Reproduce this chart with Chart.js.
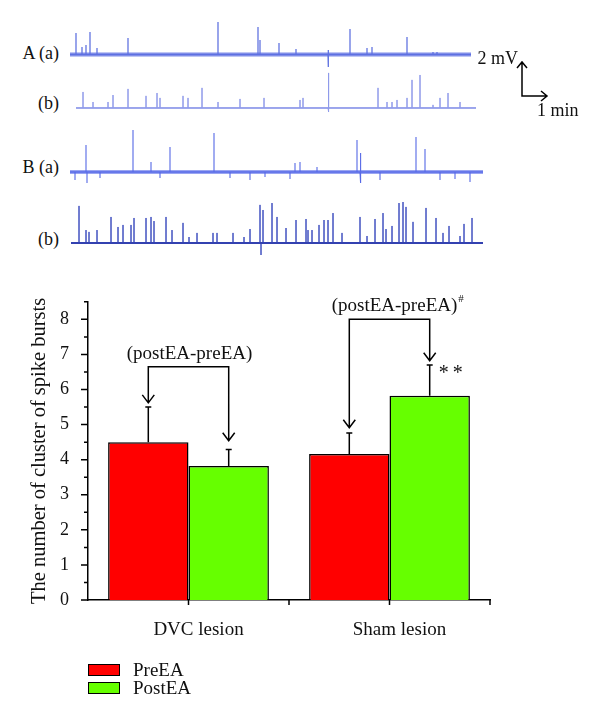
<!DOCTYPE html>
<html>
<head>
<meta charset="utf-8">
<script src="https://cdn.jsdelivr.net/npm/chart.js@4.4.1/dist/chart.umd.min.js"></script>
<style>
body { margin: 0; background: #fff; width: 600px; height: 717px; position: relative; overflow: hidden; font-family: 'Liberation Serif', 'Times New Roman', serif; color: #111; }
canvas { position: absolute; }
.lbl { position: absolute; font-size: 18px; line-height: 20px; white-space: nowrap; text-align: right; width: 60px; }
#legend { position: absolute; left: 88px; top: 661px; font-size: 19px; }
.item { display: flex; align-items: center; height: 18px; }
.box { width: 30px; height: 10px; border: 1px solid #000; margin-right: 13px; }
</style>
</head>
<body>
<div class="lbl" style="left:-1px;top:43px">A (a)</div>
<div class="lbl" style="left:-1px;top:93px">(b)</div>
<div class="lbl" style="left:-1px;top:157px">B (a)</div>
<div class="lbl" style="left:-1px;top:229px">(b)</div>

<canvas id="traceAa" width="520" height="120" style="left:60px;top:4px"></canvas>
<canvas id="traceAb" width="520" height="60" style="left:60px;top:68px"></canvas>
<canvas id="traceBa" width="520" height="70" style="left:60px;top:122px"></canvas>
<canvas id="traceBb" width="520" height="70" style="left:60px;top:193px"></canvas>
<canvas id="bars" width="600" height="437" style="left:0;top:280px"></canvas>
<div id="legend"></div>

<script>
// recordings: [time (min), amplitude (mV)] of the visible spikes
const spanAa = [0.4, 16.44];
const spikesAa = [[0.64, 1.26], [0.88, 0.44], [1.04, 0.56], [1.2, 1.32], [1.48, 0.38], [2.72, 0.97],
    [6.32, 1.91], [7.92, 1.62], [8.0, 0.85], [8.76, 0.68], [9.44, 0.32], [10.72, 0.26], [10.74, -0.74],
    [11.6, 1.5], [12.28, 0.38], [12.48, 0.44], [13.88, 1.03], [14.92, 0.15], [15.08, 0.15]];

const spanAb = [0.64, 16.64];
const spikesAb = [[0.92, 0.94], [1.32, 0.35], [1.92, 0.35], [2.12, 0.76], [2.72, 1.12], [3.44, 0.71],
    [3.88, 0.88], [4.0, 0.59], [4.92, 0.71], [5.12, 0.59], [5.68, 1.18], [6.32, 0.35], [7.2, 0.53],
    [8.16, 0.59], [9.6, 0.47], [9.72, 0.59], [10.72, 2.06], [10.76, -0.24], [12.72, 1.18], [13.08, 0.35],
    [13.28, 0.35], [13.48, 0.47], [13.88, 0.59], [14.08, 1.65], [14.4, 1.94], [14.92, 0.18], [15.2, 0.59],
    [15.52, 0.88], [16.0, 0.35]];

const spanBa = [0.4, 16.92];
const spikesBa = [[0.6, -0.47], [1.04, 1.59], [1.08, -0.65], [1.6, -0.35], [2.92, 2.47], [3.64, 0.59],
    [4.0, -0.35], [4.4, 1.47], [6.16, 2.29], [6.8, -0.35], [7.6, -0.47], [8.2, -0.3], [9.2, -0.41],
    [9.4, 0.53], [9.6, 0.59], [10.28, 0.29], [11.88, 1.88], [12.0, 1.12], [12.04, -0.65], [12.8, -0.47],
    [14.24, 2.06], [14.6, 1.35], [15.2, -0.47], [15.8, -0.41], [16.4, -0.59]];

const spanBb = [0.44, 16.92];
const spikesBb = [[0.76, 2.18], [1.04, 0.76], [1.16, 0.65], [1.48, 0.76], [2.04, 1.53], [2.32, 0.94],
    [2.52, 1.06], [2.84, 1.06], [2.96, 1.47], [3.44, 1.47], [3.64, 1.53], [3.76, 1.29], [4.24, 1.53],
    [4.48, 0.76], [4.92, 1.18], [5.16, 0.35], [5.48, 0.59], [6.12, 0.59], [6.28, 0.59], [6.92, 0.59],
    [7.36, 0.35], [7.6, 0.82], [8.0, 2.24], [8.04, -0.71], [8.12, 1.94], [8.48, 2.35], [8.68, 1.53],
    [9.04, 0.88], [9.44, 1.35], [9.84, 1.41], [9.92, 0.76], [10.08, 0.76], [10.36, 1.06], [10.56, 1.35],
    [10.72, 1.35], [10.92, 1.76], [11.28, 0.59], [12.0, 1.53], [12.28, 0.41], [12.6, 1.41], [12.92, 1.76],
    [13.04, 0.82], [13.28, 1.0], [13.56, 2.35], [13.72, 2.41], [13.84, 2.12], [14.12, 1.24], [14.64, 2.06],
    [15.04, 1.47], [15.32, 0.59], [15.56, 1.0], [16.0, 0.41], [16.16, 1.12], [16.48, 1.47]];

// scale bar: 2 mV / 1 min, corner position in (min, mV) of trace A(a)
const scaleBarMv = 2;
const scaleBarMin = 1;
const scaleBarCorner = [18.48, -2.44];

// bar chart
const groups = ['DVC lesion', 'Sham lesion'];
const seriesNames = ['PreEA', 'PostEA'];
const seriesColors = ['#ff0000', '#66ff00'];
const preEA = [4.5, 4.16];
const postEA = [3.82, 5.82];
const preErr = [1.0, 0.6];
const postErr = [0.47, 0.88];

// comparison brackets
const bracketAt = [6.65, 8.0];
const arrowTipPre = [5.62, 4.91];
const arrowTipPost = [4.54, 6.82];
const bracketText = ['(postEA-preEA)', '(postEA-preEA)'];
const bracketSup = ['', '#'];
const starText = ['', '**'];

const serif = "'Liberation Serif', 'Times New Roman', serif";

function spikeLine(span, spikes) {
    const pts = [{ x: span[0], y: 0 }];
    spikes.forEach(([t, a]) => {
        pts.push({ x: t, y: 0 }, { x: t, y: a }, { x: t, y: 0 });
    });
    pts.push({ x: span[1], y: 0 });
    return pts;
}

function makeTrace(id, span, spikes, o) {
    const ctx = document.getElementById(id).getContext('2d');
    return new Chart(ctx, {
        type: 'scatter',
        data: {
            datasets: [{
                data: [{ x: span[0], y: 0 }, { x: span[1], y: 0 }],
                showLine: true, borderColor: o.band, borderWidth: o.bandWidth, pointRadius: 0, clip: false
            }, {
                data: spikeLine(span, spikes),
                showLine: true, borderColor: o.color, borderWidth: o.width, pointRadius: 0, clip: false
            }]
        },
        options: {
            responsive: false,
            animation: false,
            events: [],
            layout: { padding: 0 },
            plugins: { legend: { display: false }, tooltip: { enabled: false } },
            scales: {
                x: { type: 'linear', display: false, min: 0, max: 20.8 },
                y: { display: false, min: o.yMin, max: o.yMax }
            }
        },
        plugins: o.plugins || []
    });
}

const scaleBarPlugin = {
    id: 'scaleBar',
    afterDraw(chart) {
        const { ctx, scales: { x, y } } = chart;
        const x0 = x.getPixelForValue(scaleBarCorner[0]);
        const x1 = x.getPixelForValue(scaleBarCorner[0] + scaleBarMin);
        const y0 = y.getPixelForValue(scaleBarCorner[1]);
        const y1 = y.getPixelForValue(scaleBarCorner[1] + scaleBarMv);
        ctx.save();
        ctx.strokeStyle = '#000';
        ctx.lineWidth = 1.5;
        ctx.beginPath();
        ctx.moveTo(x0, y1); ctx.lineTo(x0, y0); ctx.lineTo(x1, y0);
        ctx.moveTo(x0 - 5, y1 + 6); ctx.lineTo(x0, y1); ctx.lineTo(x0 + 5, y1 + 6);
        ctx.moveTo(x1 - 6, y0 - 5); ctx.lineTo(x1, y0); ctx.lineTo(x1 - 6, y0 + 5);
        ctx.stroke();
        ctx.fillStyle = '#111';
        ctx.font = '18px ' + serif;
        ctx.textBaseline = 'middle';
        ctx.textAlign = 'right';
        ctx.fillText(scaleBarMv + ' mV', x0 - 4, y1 - 3);
        ctx.textAlign = 'left';
        ctx.fillText(scaleBarMin + ' min', x0 + 15, y0 + 15);
        ctx.restore();
    }
};

makeTrace('traceAa', spanAa, spikesAa, {
    band: 'rgba(96,114,226,0.8)', bandWidth: 4, color: '#5569de', width: 1.2,
    yMin: -4.09, yMax: 2.97, plugins: [scaleBarPlugin]
});
makeTrace('traceAb', spanAb, spikesAb, {
    band: '#8f9aea', bandWidth: 1.5, color: '#8f9aea', width: 1,
    yMin: -1.18, yMax: 2.35
});
makeTrace('traceBa', spanBa, spikesBa, {
    band: 'rgba(88,106,232,0.8)', bandWidth: 3.5, color: '#5669e6', width: 1.1,
    yMin: -1.18, yMax: 2.94
});
makeTrace('traceBb', spanBb, spikesBb, {
    band: '#3341b0', bandWidth: 2, color: '#4352c0', width: 1,
    yMin: -1.18, yMax: 2.94
});

// axis ticks, error bars, comparison brackets
const annotatePlugin = {
    id: 'annotate',
    afterDraw(chart) {
        const { ctx, scales: { x, y }, chartArea } = chart;
        ctx.save();
        ctx.strokeStyle = '#000';
        ctx.lineWidth = 1.5;
        ctx.beginPath();
        for (let v = 0; v <= y.max; v += 0.5) {
            const py = y.getPixelForValue(v);
            const len = Number.isInteger(v) ? 7 : 4;
            ctx.moveTo(chartArea.left - len, py); ctx.lineTo(chartArea.left, py);
        }
        groups.forEach((g, i) => {
            const px = x.getPixelForValue(i);
            const edge = px + (x.getPixelForValue(1) - x.getPixelForValue(0)) / 2;
            ctx.moveTo(px, chartArea.bottom); ctx.lineTo(px, chartArea.bottom + 5);
            ctx.moveTo(edge, chartArea.bottom); ctx.lineTo(edge, chartArea.bottom + 5);
        });
        ctx.stroke();

        const pre = chart.getDatasetMeta(0).data;
        const post = chart.getDatasetMeta(1).data;
        [[pre, preEA, preErr], [post, postEA, postErr]].forEach(([bars, vals, errs]) => {
            bars.forEach((bar, i) => {
                const top = y.getPixelForValue(vals[i] + errs[i]);
                ctx.beginPath();
                ctx.moveTo(bar.x, bar.y); ctx.lineTo(bar.x, top);
                ctx.moveTo(bar.x - 3, top); ctx.lineTo(bar.x + 3, top);
                ctx.stroke();
            });
        });

        ctx.fillStyle = '#111';
        groups.forEach((g, i) => {
            const xl = pre[i].x, xr = post[i].x;
            const yb = y.getPixelForValue(bracketAt[i]);
            const tl = y.getPixelForValue(arrowTipPre[i]);
            const tr = y.getPixelForValue(arrowTipPost[i]);
            ctx.beginPath();
            ctx.moveTo(xl, tl); ctx.lineTo(xl, yb); ctx.lineTo(xr, yb); ctx.lineTo(xr, tr);
            ctx.moveTo(xl - 6, tl - 8); ctx.lineTo(xl, tl); ctx.lineTo(xl + 6, tl - 8);
            ctx.moveTo(xr - 6, tr - 8); ctx.lineTo(xr, tr); ctx.lineTo(xr + 6, tr - 8);
            ctx.stroke();

            ctx.font = '19px ' + serif;
            ctx.textAlign = 'center';
            ctx.textBaseline = 'middle';
            const cx = (xl + xr) / 2 + (bracketSup[i] ? 5 : 1);
            ctx.fillText(bracketText[i], cx, yb - 13);
            if (bracketSup[i]) {
                const w = ctx.measureText(bracketText[i]).width;
                ctx.font = '11px ' + serif;
                ctx.textAlign = 'left';
                ctx.fillText(bracketSup[i], cx + w / 2 + 1, yb - 20);
            }
            if (starText[i]) {
                const cap = y.getPixelForValue(postEA[i] + postErr[i]);
                ctx.font = '20px ' + serif;
                ctx.textAlign = 'left';
                ctx.textBaseline = 'alphabetic';
                starText[i].split('').forEach((s, k) => ctx.fillText(s, xr + 9 + k * 14, cap + 14));
            }
        });
        ctx.restore();
    }
};

new Chart(document.getElementById('bars').getContext('2d'), {
    type: 'bar',
    data: {
        labels: groups,
        datasets: seriesNames.map((name, i) => ({
            label: name,
            data: i === 0 ? preEA : postEA,
            backgroundColor: seriesColors[i],
            borderColor: '#000',
            borderWidth: 1.5,
            barPercentage: 1.0,
            categoryPercentage: 0.8
        }))
    },
    options: {
        responsive: false,
        animation: false,
        events: [],
        layout: { padding: { top: 21, right: 110, bottom: 0, left: 0 } },
        plugins: { legend: { display: false }, tooltip: { enabled: false } },
        scales: {
            x: {
                grid: { display: false },
                border: { display: true, color: '#000', width: 1.5 },
                ticks: { color: '#111', font: { family: serif, size: 19 }, padding: 11, labelOffset: 10 },
                afterFit(scale) { scale.height = 117; }
            },
            y: {
                min: 0,
                max: 8.5,
                grid: { display: false },
                border: { display: true, color: '#000', width: 1.5 },
                ticks: {
                    stepSize: 0.5,
                    padding: 11,
                    color: '#111',
                    font: { family: serif, size: 18 },
                    callback: v => Number.isInteger(v) ? v : ''
                },
                title: {
                    display: true,
                    text: 'The number of cluster of spike bursts',
                    color: '#111',
                    font: { family: serif, size: 20.5 },
                    padding: { top: 27, bottom: 0 }
                },
                afterFit(scale) { scale.width = 88; }
            }
        }
    },
    plugins: [annotatePlugin]
});

// legend
const legend = document.getElementById('legend');
seriesNames.forEach((name, i) => {
    const item = document.createElement('div');
    item.className = 'item';
    item.innerHTML = '<span class="box" style="background:' + seriesColors[i] + '"></span>' + name;
    legend.appendChild(item);
});
</script>
</body>
</html>
